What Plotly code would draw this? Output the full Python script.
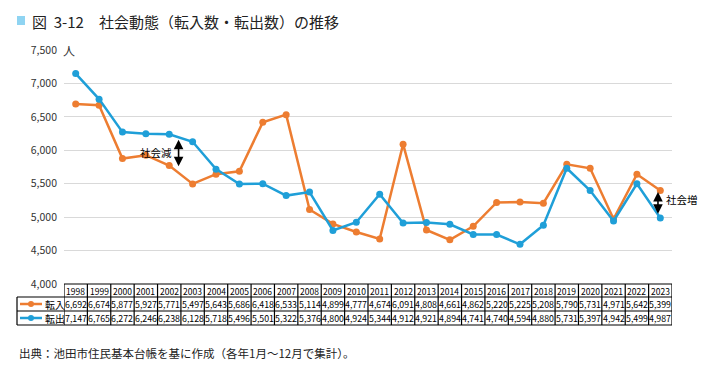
import plotly.graph_objects as go

years = [str(y) for y in range(1998, 2024)]
tennyu = [6692, 6674, 5877, 5927, 5771, 5497, 5643, 5686, 6418, 6533, 5114, 4899, 4777,
          4674, 6091, 4808, 4661, 4862, 5220, 5225, 5208, 5790, 5731, 4971, 5642, 5399]
tenshutsu = [7147, 6765, 6272, 6246, 6238, 6128, 5718, 5496, 5501, 5322, 5376, 4800, 4924,
             5344, 4912, 4921, 4894, 4741, 4740, 4594, 4880, 5731, 5397, 4942, 5499, 4987]
series_names = ["転入", "転出"]
colors = ["#ed7d31", "#1f9fd8"]
yticks = [4000, 4500, 5000, 5500, 6000, 6500, 7000, 7500]

JP = "Noto Sans CJK JP"
W, H = 706, 374
ML, MR, MT, MB = 64, 34, 50, 90
PW, PH = W - ML - MR, H - MT - MB

def px_y(py):
    return (H - MB - py) / PH

def px_x(px):
    return (px - ML) / PW

def txt(**kw):
    d = dict(showarrow=False, xanchor="center", yanchor="middle")
    d.update(kw)
    return d

xs = list(range(len(years)))
fig = go.Figure()
for name, vals, c in zip(series_names, [tennyu, tenshutsu], colors):
    fig.add_trace(go.Scatter(x=xs, y=vals, mode="lines+markers", name=name,
                             line=dict(color=c, width=2.5),
                             marker=dict(color=c, size=7), showlegend=False,
                             cliponaxis=False))

shapes = []
ann = []
row_edges = [284, 297, 311, 325]
ry = [px_y(v) for v in row_edges]
n = len(years)
for k, yv in enumerate(ry):
    if k == 0:
        shapes.append(dict(type="line", xref="paper", yref="paper", x0=0, x1=1,
                           y0=yv, y1=yv, line=dict(color="black", width=1.2)))
    else:
        shapes.append(dict(type="line", xref="paper", yref="paper", x0=px_x(17), x1=1,
                           y0=yv, y1=yv, line=dict(color="black", width=1.2)))
for i in range(n + 1):
    shapes.append(dict(type="line", xref="x", yref="paper", x0=i - 0.5, x1=i - 0.5,
                       y0=ry[0], y1=ry[3], line=dict(color="black", width=1.2)))
shapes.append(dict(type="line", xref="paper", yref="paper", x0=px_x(17), x1=px_x(17),
                   y0=ry[1], y1=ry[3], line=dict(color="black", width=1.2)))

for i, yr in enumerate(years):
    ann.append(txt(x=i, y=(ry[0] + ry[1]) / 2, xref="x", yref="paper", text=yr,
                   font=dict(family=JP, size=8.5, color="black")))
for r, vals in enumerate([tennyu, tenshutsu]):
    yc = (ry[r + 1] + ry[r + 2]) / 2
    for i, v in enumerate(vals):
        ann.append(txt(x=i, y=yc, xref="x", yref="paper", text=f"{v:,}",
                       font=dict(family=JP, size=8.8, color="black")))
    shapes.append(dict(type="line", xref="paper", yref="paper", x0=px_x(20), x1=px_x(42),
                       y0=yc, y1=yc, line=dict(color=colors[r], width=2.5)))
    shapes.append(dict(type="circle", xref="paper", yref="paper", x0=px_x(28), x1=px_x(34),
                       y0=yc - 3 / PH, y1=yc + 3 / PH, fillcolor=colors[r],
                       line=dict(color=colors[r], width=0)))
    ann.append(txt(x=px_x(43), y=yc, xref="paper", yref="paper", text=series_names[r],
                   xanchor="left", font=dict(family=JP, size=10, color="black")))

shapes.append(dict(type="rect", xref="paper", yref="paper", x0=px_x(17), x1=px_x(25),
                   y0=px_y(25), y1=px_y(16), fillcolor="#8fd4f2", line=dict(width=0)))
ann.append(txt(x=px_x(30), y=px_y(21), xref="paper", yref="paper", xanchor="left",
               text="図  3-12　社会動態（転入数・転出数）の推移",
               font=dict(family=JP, size=15, color="#222222")))
ann.append(txt(x=px_x(61), y=px_y(50), xref="paper", yref="paper", xanchor="left",
               text="人", font=dict(family=JP, size=12, color="#333333")))
ann.append(txt(x=px_x(17), y=px_y(353), xref="paper", yref="paper", xanchor="left",
               text="出典：池田市住民基本台帳を基に作成（各年1月～12月で集計）。",
               font=dict(family=JP, size=11.5, color="#222222")))

ann.append(dict(x=4.4, y=5760, xref="x", yref="y", ax=4.4, ay=6180, axref="x", ayref="y",
                showarrow=True, arrowhead=2, arrowside="end+start", arrowsize=1.2, arrowwidth=1.6,
                arrowcolor="black", text=""))
ann.append(txt(x=4.2, y=5965, xref="x", yref="y", xanchor="right", text="社会減",
               font=dict(family=JP, size=10.5, color="black")))
ann.append(dict(x=24.9, y=5050, xref="x", yref="y", ax=24.9, ay=5400, axref="x", ayref="y",
                showarrow=True, arrowhead=2, arrowside="end+start", arrowsize=1.2, arrowwidth=1.6,
                arrowcolor="black", text=""))
ann.append(txt(x=25.15, y=5270, xref="x", yref="y", xanchor="left", text="社会増",
               font=dict(family=JP, size=10.5, color="black")))

fig.update_layout(
    width=W, height=H, margin=dict(l=ML, r=MR, t=MT, b=MB),
    plot_bgcolor="white", paper_bgcolor="white",
    shapes=shapes, annotations=ann, hovermode=False,
    xaxis=dict(range=[-0.5, n - 0.5], showticklabels=False, showgrid=False, zeroline=False,
               showline=False, ticks=""),
    yaxis=dict(range=[4000, 7500], tickvals=yticks,
               ticktext=[f"{v:,}" for v in yticks],
               showgrid=True, gridcolor="#d9d9d9", gridwidth=1, zeroline=False,
               ticks="", ticklabelstandoff=6,
               tickfont=dict(family=JP, size=10.5, color="#333333")),
)
fig.write_html("out.html", config={"displayModeBar": False},
               post_script="document.body.style.margin='0';document.body.style.overflow='hidden';")
